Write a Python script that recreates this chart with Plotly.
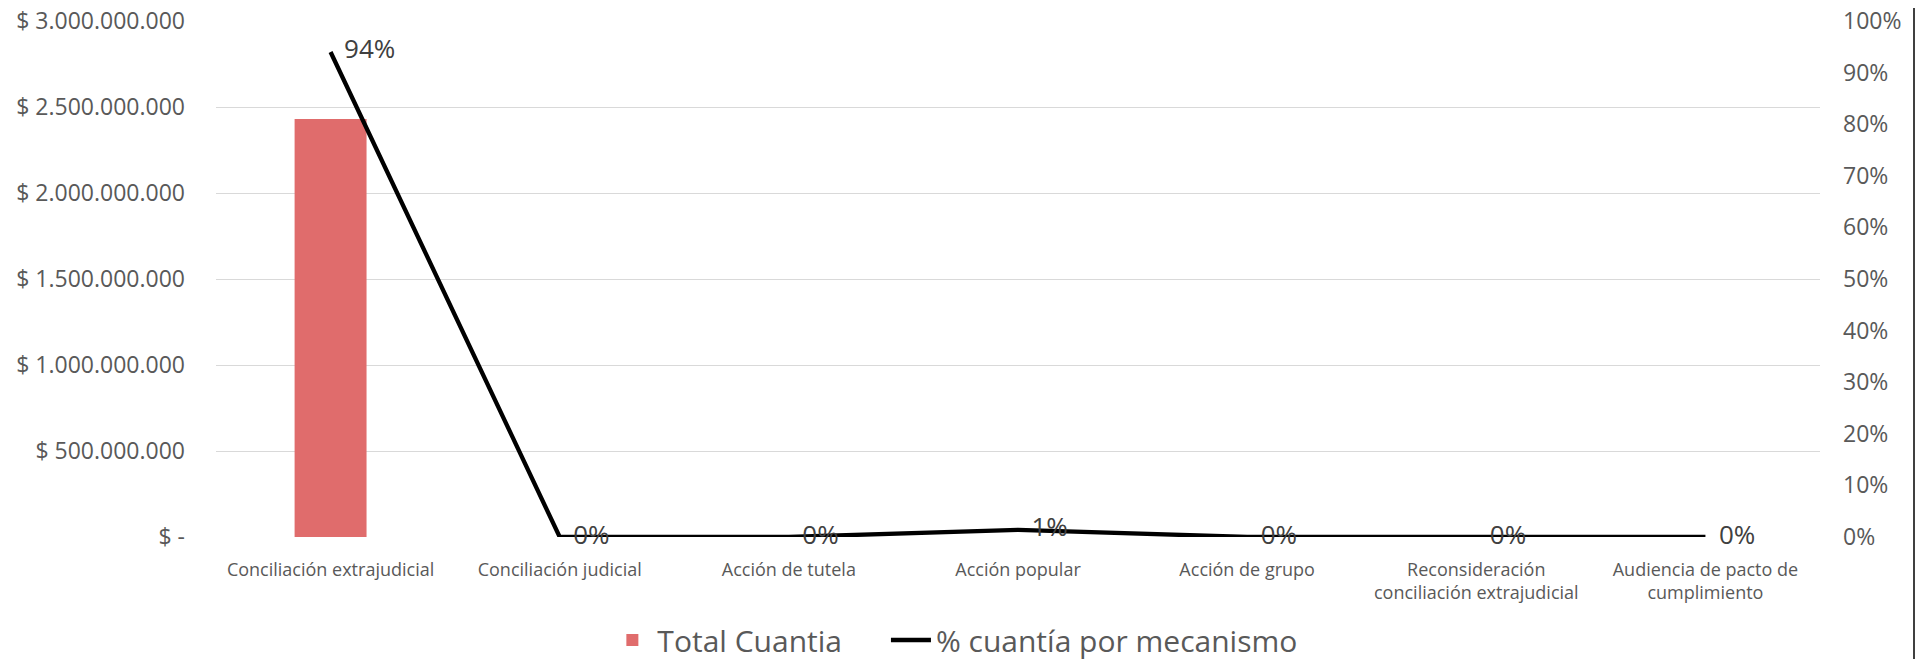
import plotly.graph_objects as go

categories = [
    "Conciliación extrajudicial",
    "Conciliación judicial",
    "Acción de tutela",
    "Acción popular",
    "Acción de grupo",
    "Reconsideración<br>conciliación extrajudicial",
    "Audiencia de pacto de<br>cumplimiento",
]
total_cuantia = [2430000000, 0, 0, 0, 0, 0, 0]
pct_cuantia = [0.94, 0.0, 0.0, 0.014, 0.0, 0.0, 0.0]

left_tickvals = [0, 500000000, 1000000000, 1500000000, 2000000000, 2500000000, 3000000000]
left_ticktext = ["$ -", "$ 500.000.000", "$ 1.000.000.000", "$ 1.500.000.000",
                 "$ 2.000.000.000", "$ 2.500.000.000", "$ 3.000.000.000"]
right_tickvals = [i / 10 for i in range(11)]
right_ticktext = [f"{i * 10}%" for i in range(11)]

FONT = "Open Sans"
TICK_COLOR = "#595959"

# page body has an 8px margin; figure is sized so the page fits the window
W, H = 1909, 651
OFF = 8
PLOT_L, PLOT_R, PLOT_T, PLOT_B = 216 - OFF, 1820 - OFF, 21 - OFF, 537 - OFF

NBSP = "\u00a0"

fig = go.Figure()
fig.add_trace(go.Bar(
    x=categories, y=total_cuantia, name="Total Cuantia" + NBSP * 5,
    marker=dict(color="#E06C6C", line=dict(width=0)),
    width=0.314, yaxis="y",
))
fig.add_trace(go.Scatter(
    x=categories, y=pct_cuantia, name="% cuantía por mecanismo",
    mode="lines+text", yaxis="y2",
    line=dict(color="#000000", width=4.3),
    text=[f"  {round(v * 100):d}%" for v in pct_cuantia],
    textposition="middle right",
    textfont=dict(family=FONT, size=26, color="#404040"),
    cliponaxis=False,
))

border_x = (1914 - OFF - PLOT_L) / (PLOT_R - PLOT_L)

fig.update_layout(
    width=W, height=H,
    margin=dict(l=PLOT_L, r=W - PLOT_R, t=PLOT_T, b=H - PLOT_B, autoexpand=False),
    paper_bgcolor="white", plot_bgcolor="white",
    font=dict(family=FONT, color=TICK_COLOR),
    showlegend=True,
    legend=dict(
        orientation="h", xref="container", yref="container",
        x=0.496, xanchor="center", y=(H - 632) / H, yanchor="middle",
        font=dict(family=FONT, size=30, color=TICK_COLOR),
        itemwidth=40, traceorder="normal",
    ),
    xaxis=dict(
        type="category", showgrid=False, zeroline=False, showline=False,
        tickfont=dict(family=FONT, size=18, color=TICK_COLOR),
        ticks="", ticklabelstandoff=20, automargin=False,
    ),
    yaxis=dict(
        range=[0, 3000000000], tickvals=left_tickvals, ticktext=left_ticktext,
        showgrid=True, gridcolor="#D9D9D9", gridwidth=1, zeroline=False,
        showline=False, ticks="", ticklabelstandoff=30,
        ticklabeloverflow="allow", automargin=False,
        tickfont=dict(family=FONT, size=23, color=TICK_COLOR),
    ),
    yaxis2=dict(
        range=[0, 1], overlaying="y", side="right",
        tickvals=right_tickvals, ticktext=right_ticktext,
        showgrid=False, zeroline=False, showline=False, ticks="",
        ticklabelstandoff=22, ticklabeloverflow="allow", automargin=False,
        tickfont=dict(family=FONT, size=23, color=TICK_COLOR),
    ),
    shapes=[dict(
        type="line", xref="paper", yref="paper",
        x0=border_x, x1=border_x, y0=-0.5, y1=1.5,
        line=dict(color="#404040", width=2),
    )],
)

fig.write_html("out.html")
